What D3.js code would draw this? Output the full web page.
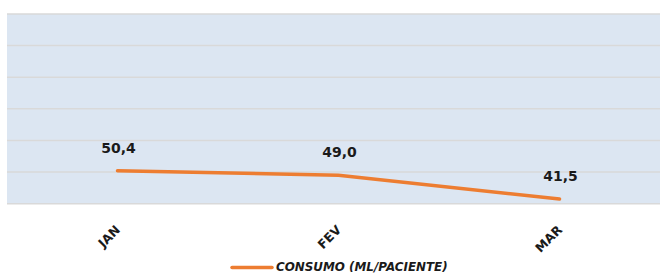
<!DOCTYPE html>
<html><head><meta charset="utf-8">
<script src="https://cdn.jsdelivr.net/npm/d3@7"></script>
<style>body{margin:0;background:#fff}svg{display:block}</style>
</head><body>
<svg id="c" width="660" height="275"></svg>
<script>
const categories = ["JAN", "FEV", "MAR"];
const values = [50.4, 49.0, 41.5];
const valueLabels = ["50,4", "49,0", "41,5"];
const yTicks = [40, 50, 60, 70, 80, 90, 100];
const seriesName = "CONSUMO (ML/PACIENTE)";

const svg = d3.select("#c");
const pL = 7, pR = 670, pT = 14, pB = 203.7;
const x = d3.scalePoint().domain(categories).range([pL, pR]).padding(0.5);
const y = d3.scaleLinear().domain([40, 100]).range([pB, pT]);

svg.append("rect").attr("x", pL).attr("y", pT).attr("width", pR - pL).attr("height", pB - pT).attr("fill", "#dce6f2");

svg.append("g").selectAll("line").data(yTicks).join("line")
  .attr("x1", pL).attr("x2", pR)
  .attr("y1", d => y(d)).attr("y2", d => y(d))
  .attr("stroke", "#d9d9d9").attr("stroke-width", 1.5);

const line = d3.line().x((d, i) => x(categories[i])).y(d => y(d));
svg.append("path").datum(values).attr("d", line)
  .attr("fill", "none").attr("stroke", "#ed7d31").attr("stroke-width", 3.5).attr("stroke-linecap", "round");

svg.append("g").selectAll("text").data(values).join("text")
  .attr("x", (d, i) => x(categories[i]) + 1)
  .attr("y", d => y(d) - 18)
  .attr("text-anchor", "middle")
  .attr("font-family", "DejaVu Sans").attr("font-weight", "bold").attr("font-size", 14)
  .attr("fill", "#1a1a1a")
  .text((d, i) => valueLabels[i]);

const xAxis = d3.axisBottom(x).tickSize(0).tickPadding(0);
const gx = svg.append("g").attr("transform", `translate(0,${pB})`).call(xAxis);
gx.select(".domain").remove();
gx.selectAll("text")
  .attr("font-family", "DejaVu Sans").attr("font-weight", "bold").attr("font-size", 12.5)
  .attr("fill", "#1a1a1a")
  .attr("text-anchor", "end").attr("dy", null).attr("y", 0)
  .attr("transform", "translate(3,27) rotate(-45)");

const lg = svg.append("g");
lg.append("line").attr("x1", 232).attr("x2", 272).attr("y1", 267.5).attr("y2", 267.5)
  .attr("stroke", "#ed7d31").attr("stroke-width", 3.5).attr("stroke-linecap", "round");
lg.append("text").attr("x", 276).attr("y", 271)
  .attr("font-family", "DejaVu Sans").attr("font-weight", "bold").attr("font-style", "italic").attr("font-size", 11.9)
  .attr("fill", "#1a1a1a").text(seriesName);
</script>
</body></html>
